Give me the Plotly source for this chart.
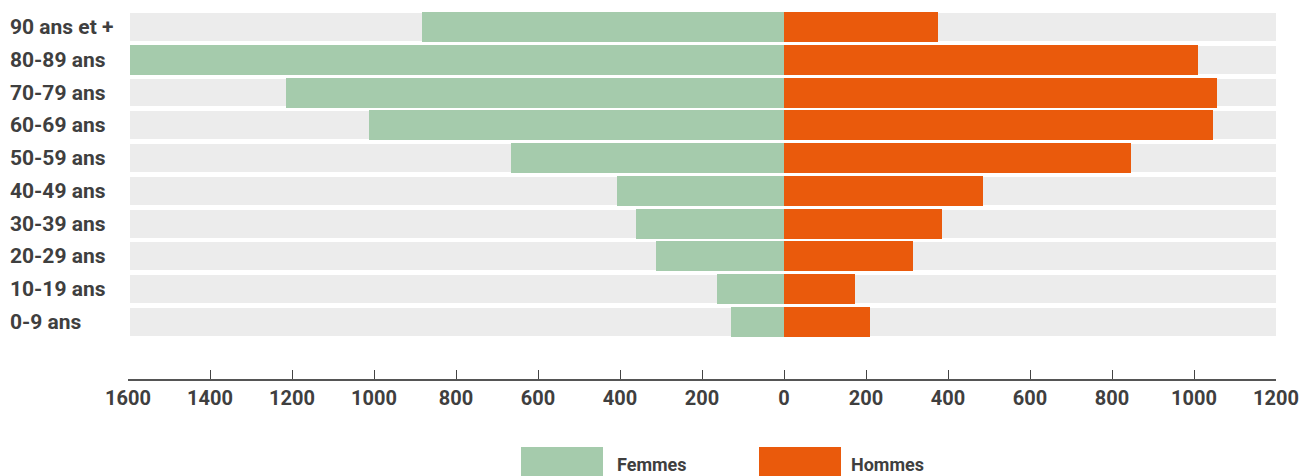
import plotly.graph_objects as go

categories = ["0-9 ans", "10-19 ans", "20-29 ans", "30-39 ans", "40-49 ans",
              "50-59 ans", "60-69 ans", "70-79 ans", "80-89 ans", "90 ans et +"]
femmes = [129, 163, 312, 361, 407, 666, 1012, 1215, 1595, 883]
hommes = [210, 173, 315, 385, 485, 846, 1046, 1056, 1010, 376]
tick_vals = [-1600, -1400, -1200, -1000, -800, -600, -400, -200, 0, 200, 400, 600, 800, 1000, 1200]
tick_text = ["1600", "1400", "1200", "1000", "800", "600", "400", "200", "0", "200", "400", "600", "800", "1000", "1200"]
x_min, x_max = -1600, 1200

GREEN = "#a5cbac"
ORANGE = "#ea5a0c"
GRAY = "#ececec"
TEXT = "#3f3f3f"
FONT = "Roboto"

fig = go.Figure()
fig.add_trace(go.Bar(
    y=categories, x=[x_max - (x_min + 5)] * len(categories), base=x_min + 5,
    orientation="h", marker=dict(color=GRAY, line=dict(width=0)), width=0.85,
    hoverinfo="skip", showlegend=False))
fig.add_trace(go.Bar(
    y=categories, x=[-v for v in femmes], base=0, orientation="h", name="Femmes",
    marker=dict(color=GREEN, line=dict(width=0)), width=0.915, showlegend=False))
fig.add_trace(go.Bar(
    y=categories, x=hommes, base=0, orientation="h", name="Hommes",
    marker=dict(color=ORANGE, line=dict(width=0)), width=0.915, showlegend=False))

W, H = 1310, 476
ml, mr, mt, mb = 128, 34, 5, 97
pw, ph = W - ml - mr, H - mt - mb

def px_x(px):
    return (px - ml) / pw

def px_y(py):
    return (H - mb - py) / ph

annotations = []
for c in categories:
    annotations.append(dict(x=px_x(8), xref="paper", y=c, yref="y", text=c, showarrow=False,
                            xanchor="left", yanchor="middle",
                            font=dict(family=FONT, size=21, color=TEXT, weight=700)))

shapes = []
legend_items = [("Femmes", GREEN, 521, 603, 615), ("Hommes", ORANGE, 759, 841, 849)]
for name, col, x0, x1, tx in legend_items:
    shapes.append(dict(type="rect", xref="paper", yref="paper", x0=px_x(x0), x1=px_x(x1),
                       y0=px_y(480), y1=px_y(447), fillcolor=col, line=dict(width=0), layer="above"))
    annotations.append(dict(x=px_x(tx), xref="paper", y=px_y(464), yref="paper", text=name,
                            showarrow=False, xanchor="left", yanchor="middle",
                            font=dict(family=FONT, size=18, color=TEXT, weight=700)))

fig.update_layout(
    width=W, height=H, margin=dict(l=ml, r=mr, t=mt, b=mb),
    paper_bgcolor="white", plot_bgcolor="white", barmode="overlay", bargap=0,
    font=dict(family=FONT, color=TEXT),
    xaxis=dict(range=[x_min, x_max], tickvals=tick_vals, ticktext=tick_text,
               showgrid=False, zeroline=False, showline=True, linecolor="#555", linewidth=1.5,
               ticks="inside", ticklen=9, tickwidth=1, tickcolor="#444",
               tickfont=dict(family=FONT, size=20, color=TEXT, weight=700), fixedrange=True),
    yaxis=dict(range=[-1.74, 9.67], showticklabels=False, showgrid=False, zeroline=False,
               showline=False, ticks="", fixedrange=True),
    annotations=annotations, shapes=shapes,
)

fig.write_html("out.html")
